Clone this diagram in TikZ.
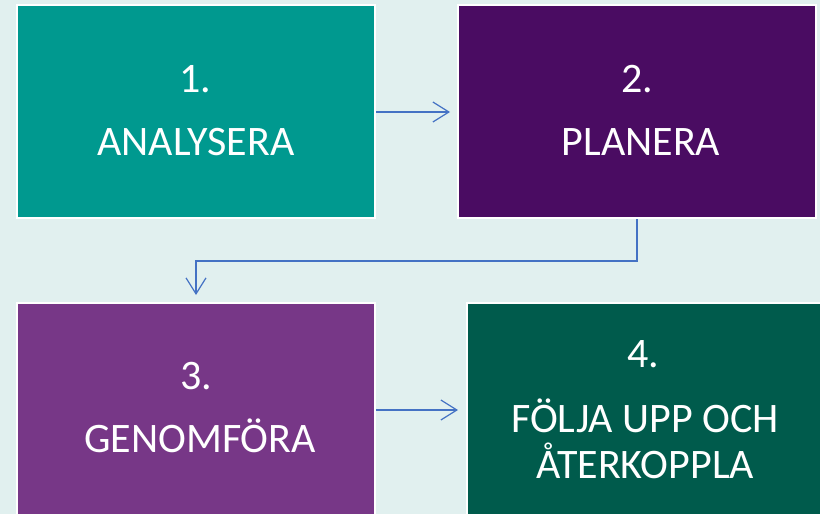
\documentclass[tikz,border=0pt]{standalone}
\usepackage{fontspec}
\setmainfont{Carlito}
\usetikzlibrary{arrows.meta}
\definecolor{bgc}{HTML}{E1F0EF}
\definecolor{cteal}{HTML}{00998F}
\definecolor{cpurple}{HTML}{4A0C62}
\definecolor{cviolet}{HTML}{773787}
\definecolor{cgreen}{HTML}{005B4C}
\definecolor{carrow}{HTML}{4472C4}
\begin{document}
\begin{tikzpicture}[x=1pt,y=-1pt,
  box/.style={draw=white, line width=2pt, inner sep=0pt, minimum width=358pt, minimum height=213pt},
  lbl/.style={text=white, anchor=base, inner sep=0pt, font=\fontsize{42}{48}\selectfont, align=center},
  conn/.style={draw=carrow, line width=1.2pt, -{Straight Barb[length=16pt,width=20pt,line width=1.2pt]}}]
\useasboundingbox (0,0) rectangle (820,514);
\fill[bgc] (0,0) rectangle (820,514);
\begin{scope}
\clip (0,0) rectangle (820,514);
\node[box, fill=cteal] (b1) at (196,111.5) {};
\node[box, fill=cpurple] (b2) at (637,111.5) {};
\node[box, fill=cviolet, minimum height=217pt] (b3) at (196,411.5) {};
\node[box, fill=cgreen, minimum height=217pt] (b4) at (646,411.5) {};
\end{scope}
\node[lbl] (t1a) at (195,92) {1.};
\node[lbl] (t1b) at (196,155) {ANALYSERA};
\node[lbl] (t2a) at (637,92) {2.};
\node[lbl] (t2b) at (641,155) {PLANERA};
\node[lbl] (t3a) at (196,389) {3.};
\node[lbl] (t3b) at (200,452) {GENOMFÖRA};
\node[lbl] (t4a) at (643,367) {4.};
\node[lbl] (t4b) at (645,432) {FÖLJA UPP OCH};
\node[lbl] (t4c) at (645,478) {ÅTERKOPPLA};
\coordinate (m1) at (637,261);
\coordinate (m2) at (196,261);
\draw[conn, shorten >=7pt] (b1.east |- 0,112) -- (b2.west |- 0,112);
\draw[conn, shorten >=7pt] (b2.south) -- (m1) -- (m2) -- (b3.north);
\draw[conn, shorten >=8pt] (b3.east |- 0,410) -- (b4.west |- 0,410);
\end{tikzpicture}
\end{document}
